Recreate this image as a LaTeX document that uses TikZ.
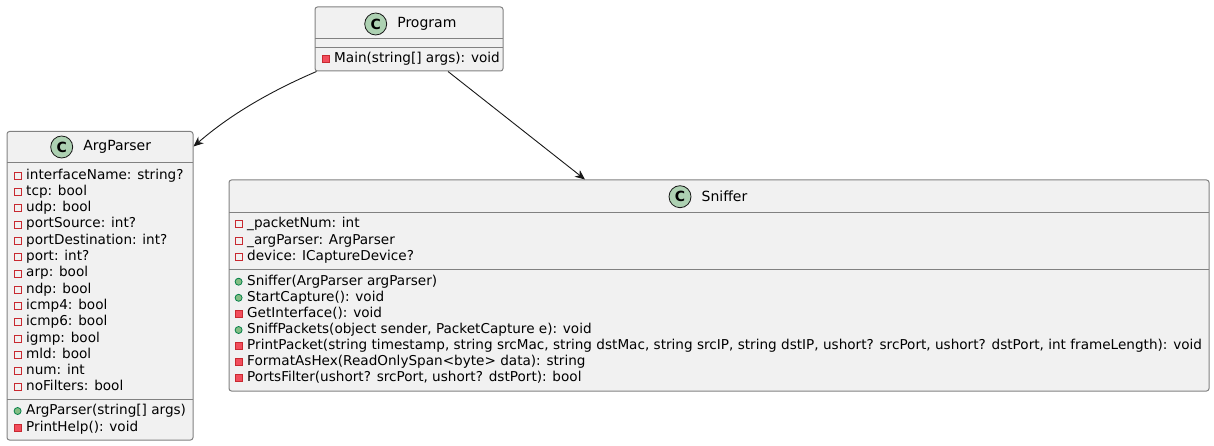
\documentclass[tikz,border=0pt]{standalone}
\usepackage{fontspec}
\setmainfont{DejaVu Sans}
\usepackage{tikz}
\usetikzlibrary{arrows.meta, positioning}

\definecolor{boxfill}{HTML}{F1F1F1}
\definecolor{boxline}{HTML}{818181}
\definecolor{arrline}{HTML}{181818}
\definecolor{circfill}{HTML}{ADD1B2}
\definecolor{privred}{HTML}{C82930}
\definecolor{privfill}{HTML}{F24D5C}
\definecolor{pubgreen}{HTML}{038048}
\definecolor{pubfill}{HTML}{84BE84}

\begin{document}
\begin{tikzpicture}[
    x=1pt, y=-1pt,
    classbox/.style={rectangle, draw=boxline, fill=boxfill, line width=1pt, rounded corners=2.5pt, inner sep=0pt},
    sep/.style={draw=boxline, line width=1pt},
    cicon/.style={circle, draw=arrline, fill=circfill, line width=0.8pt, minimum size=22pt, inner sep=0pt, font=\fontsize{14}{14}\selectfont\bfseries},
    classname/.style={anchor=west, inner sep=0pt, font=\fontsize{14}{16}\selectfont},
    member/.style={anchor=west, inner sep=0pt, text height=10pt, text depth=3pt, font=\fontsize{13.6}{16}\selectfont},
    privf/.style={member, label={[draw=privred, line width=0.8pt, minimum size=7pt, inner sep=0pt, label distance=4.5pt]left:{}}},
    privm/.style={member, label={[draw=privred, fill=privfill, line width=0.8pt, minimum size=7pt, inner sep=0pt, label distance=4.5pt]left:{}}},
    pubm/.style={member, label={[circle, draw=pubgreen, fill=pubfill, line width=0.8pt, minimum size=7pt, inner sep=0pt, label distance=4.5pt]left:{}}},
    arrow/.style={-{Stealth[length=10pt, width=8.5pt]}, draw=arrline, line width=0.9pt}
]
\useasboundingbox (0,0) rectangle (1214,446);

% Class boxes
\node[classbox, minimum width=188pt, minimum height=64pt] (prog) at (409,39) {};
\node[classbox, minimum width=186pt, minimum height=308.5pt] (argp) at (100,285.75) {};
\node[classbox, minimum width=980pt, minimum height=211pt] (sniff) at (719,285.5) {};

% Separators
\draw[sep] (315,39) -- (503,39);
\draw[sep] (315,48) -- (503,48);
\draw[sep] (7,163) -- (193,163);
\draw[sep] (7,399) -- (193,399);
\draw[sep] (229,212.3) -- (1209,212.3);
\draw[sep] (229,269.3) -- (1209,269.3);

% Headers
\node[cicon] (progc) at (375.7,24) {C};
\node[classname, right=10pt of progc] (progn) {Program};
\node[cicon] (argpc) at (61.7,147) {C};
\node[classname, right=10pt of argpc] (argpn) {ArgParser};
\node[cicon] (sniffc) at (680,196.7) {C};
\node[classname, right=10pt of sniffc] (sniffn) {Sniffer};

% Program members
\node[privm] (pm1) at (334,59) {Main(string[] args): void};

% ArgParser fields
\node[privf] (af1) at (26,175.7) {interfaceName: string?};
\node[privf] (af2) at (26,192.0) {tcp: bool};
\node[privf] (af3) at (26,208.3) {udp: bool};
\node[privf] (af4) at (26,224.5) {portSource: int?};
\node[privf] (af5) at (26,240.8) {portDestination: int?};
\node[privf] (af6) at (26,257.1) {port: int?};
\node[privf] (af7) at (26,273.4) {arp: bool};
\node[privf] (af8) at (26,289.7) {ndp: bool};
\node[privf] (af9) at (26,305.9) {icmp4: bool};
\node[privf] (af10) at (26,322.2) {icmp6: bool};
\node[privf] (af11) at (26,338.5) {igmp: bool};
\node[privf] (af12) at (26,354.8) {mld: bool};
\node[privf] (af13) at (26,371.1) {num: int};
\node[privf] (af14) at (26,387.3) {noFilters: bool};

% ArgParser methods
\node[pubm] (am1) at (26,411) {ArgParser(string[] args)};
\node[privm] (am2) at (26,428.3) {PrintHelp(): void};

% Sniffer fields
\node[privf] (sf1) at (247,224.3) {\_packetNum: int};
\node[privf] (sf2) at (247,240.5) {\_argParser: ArgParser};
\node[privf] (sf3) at (247,256.7) {device: ICaptureDevice?};

% Sniffer methods
\node[pubm] (sm1) at (247,281.7) {Sniffer(ArgParser argParser)};
\node[pubm] (sm2) at (247,297.8) {StartCapture(): void};
\node[privm] (sm3) at (247,313.9) {GetInterface(): void};
\node[pubm] (sm4) at (247,330.0) {SniffPackets(object sender, PacketCapture e): void};
\node[privm] (sm5) at (247,346.1) {PrintPacket(string timestamp, string srcMac, string dstMac, string srcIP, string dstIP, ushort? srcPort, ushort? dstPort, int frameLength): void};
\node[privm] (sm6) at (247,362.2) {FormatAsHex(ReadOnlySpan<byte> data): string};
\node[privm] (sm7) at (247,378.3) {PortsFilter(ushort? srcPort, ushort? dstPort): bool};

% Associations
\draw[arrow] ([xshift=2pt]prog.south west) .. controls (250,100) and (215,128) .. ([yshift=-15.5pt]argp.north east);
\draw[arrow] ([xshift=39pt]prog.south) -- ([xshift=-134pt]sniff.north);

\end{tikzpicture}
\end{document}
